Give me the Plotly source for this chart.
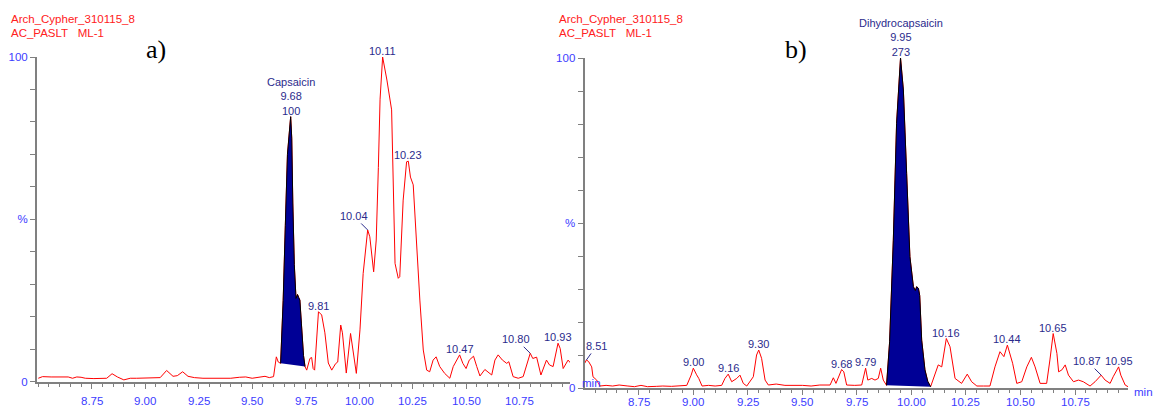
import plotly.graph_objects as go

W, H = 1154, 411

# ---- Panel a) : retention time (min) vs relative intensity (%) ----
time_a = [8.50, 8.52, 8.56, 8.60, 8.64, 8.66, 8.68, 8.70, 8.72, 8.76, 8.80, 8.82,
          8.845, 8.87, 8.90, 8.93, 8.96, 9.00, 9.04, 9.07, 9.10, 9.13, 9.15, 9.175,
          9.20, 9.23, 9.27, 9.32, 9.36, 9.40, 9.44, 9.47, 9.50, 9.53, 9.56, 9.58,
          9.60, 9.613, 9.622, 9.633, 9.645, 9.655, 9.665, 9.68, 9.685, 9.69, 9.697,
          9.705, 9.712, 9.718, 9.723, 9.73, 9.74, 9.747, 9.755, 9.77, 9.778, 9.785,
          9.792, 9.81, 9.825, 9.84, 9.856, 9.872, 9.89, 9.90, 9.914, 9.922, 9.94,
          9.96, 9.97, 9.987, 10.004, 10.019, 10.04, 10.05, 10.068, 10.08, 10.09,
          10.098, 10.11, 10.13, 10.152, 10.16, 10.168, 10.183, 10.19, 10.206,
          10.222, 10.23, 10.24, 10.253, 10.27, 10.284, 10.30, 10.316, 10.33,
          10.346, 10.36, 10.377, 10.40, 10.424, 10.44, 10.47, 10.485, 10.50,
          10.515, 10.535, 10.55, 10.565, 10.588, 10.60, 10.62, 10.635, 10.65,
          10.67, 10.69, 10.70, 10.72, 10.744, 10.767, 10.80, 10.812, 10.83, 10.85,
          10.876, 10.89, 10.907, 10.93, 10.94, 10.954, 10.977, 10.99]
int_a = [1.0, 1.5, 1.4, 1.5, 1.4, 1.0, 1.4, 1.3, 1.0, 0.9, 0.9, 1.0,
         2.4, 1.4, 0.5, 1.0, 1.0, 1.0, 1.2, 1.2, 3.4, 1.6, 1.8, 3.0,
         1.6, 1.2, 1.0, 1.0, 1.2, 1.0, 1.3, 1.4, 1.0, 1.2, 1.6, 1.2,
         1.5, 7.6, 6.0, 5.6, 25.0, 48.0, 70.0, 81.6, 75.0, 55.0, 36.0,
         25.6, 26.8, 25.8, 25.1, 18.0, 8.0, 4.6, 3.5, 7.1, 7.4, 4.0,
         3.5, 21.5, 20.5, 15.0, 5.7, 3.5, 5.5, 6.0, 17.4, 15.0, 2.6,
         14.8, 10.7, 2.5, 15.9, 33.3, 46.7, 44.6, 33.8, 43.6, 66.0,
         87.0, 100.0, 92.9, 83.7, 55.0, 36.4, 31.8, 32.3, 55.9,
         67.7, 67.9, 63.0, 60.6, 40.5, 25.1, 9.7, 3.5, 3.0,
         6.6, 7.6, 4.6, 2.5, 1.0, 4.6, 8.2, 5.6, 4.0,
         6.6, 7.8, 4.6, 1.7, 3.7, 3.0, 2.0, 6.6, 8.2,
         6.6, 5.6, 6.1, 1.5, 1.0, 1.5, 8.7, 7.1, 7.5, 2.0,
         6.6, 5.1, 4.6, 11.8, 10.2, 4.0, 6.6, 5.6]

# ---- Panel b) ----
time_b = [8.502, 8.51, 8.52, 8.534, 8.54, 8.557, 8.572, 8.60, 8.63, 8.66, 8.70,
          8.73, 8.76, 8.79, 8.83, 8.86, 8.90, 8.94, 8.97, 8.99, 9.00, 9.015, 9.025,
          9.04, 9.07, 9.10, 9.13, 9.145, 9.16, 9.176, 9.199, 9.214, 9.229, 9.245,
          9.275, 9.29, 9.30, 9.313, 9.329, 9.344, 9.38, 9.42, 9.46, 9.50, 9.54,
          9.58, 9.627, 9.642, 9.654, 9.68, 9.69, 9.703, 9.74, 9.772, 9.79, 9.80,
          9.818, 9.833, 9.848, 9.859, 9.871, 9.886, 9.90, 9.917, 9.932, 9.95,
          9.963, 9.978, 9.993, 10.009, 10.018, 10.024, 10.032, 10.038, 10.047,
          10.062, 10.075, 10.088, 10.108, 10.123, 10.139, 10.15, 10.16, 10.177,
          10.20, 10.23, 10.256, 10.276, 10.30, 10.33, 10.36, 10.383, 10.406,
          10.424, 10.44, 10.464, 10.483, 10.506, 10.529, 10.55, 10.567, 10.59,
          10.62, 10.635, 10.65, 10.667, 10.675, 10.69, 10.705, 10.72, 10.743,
          10.766, 10.788, 10.819, 10.842, 10.87, 10.888, 10.911, 10.925, 10.95,
          10.96, 10.98, 10.993]
int_b = [7.5, 8.5, 8.0, 6.4, 3.4, 2.4, 0.6, 0.8, 0.6, 0.9, 0.6,
         0.4, 0.8, 0.4, 0.5, 0.6, 0.5, 0.6, 0.8, 3.9, 6.0, 4.0, 2.9,
         0.6, 0.8, 0.6, 0.8, 2.9, 4.2, 1.9, 2.9, 3.9, 1.4, 0.6,
         3.4, 10.0, 11.5, 9.0, 2.4, 0.9, 1.2, 0.8, 0.9, 0.8, 0.6,
         0.9, 0.9, 3.1, 1.4, 5.6, 4.9, 0.9, 0.8, 0.9, 6.0, 2.4,
         2.9, 2.4, 2.9, 6.0, 2.4, 0.8, 14.0, 44.8, 80.2, 100.0,
         90.3, 65.0, 39.8, 30.7, 29.5, 30.7, 30.2, 28.0, 14.5,
         5.5, 2.0, 0.4, 4.4, 7.0, 6.4, 10.5, 15.0, 12.5,
         2.9, 1.4, 4.2, 1.9, 0.6, 0.6, 0.6, 6.4, 11.0,
         9.5, 13.0, 7.5, 1.4, 1.9, 6.4, 9.3, 6.4, 1.4,
         1.4, 8.5, 16.5, 10.5, 4.9, 5.5, 7.0, 3.9, 1.9,
         2.4, 1.9, 0.6, 1.9, 3.9, 2.4, 1.4, 3.4, 6.4,
         3.9, 0.9, 0.4]

# integrated peak windows (start, end) in minutes
cap_window = (9.633, 9.747)
dhc_window = (9.886, 10.088)

# peak annotations: (retention time, text)
labels_a = [(9.68, "Capsaicin<br>9.68<br>100"), (9.81, "9.81"), (10.11, "10.11"),
            (10.23, "10.23"), (10.47, "10.47"), (10.93, "10.93")]
leader_a = [(10.04, "10.04"), (10.80, "10.80")]
labels_b = [(9.00, "9.00"), (9.16, "9.16"), (9.30, "9.30"), (9.68, "9.68"),
            (9.79, "9.79"), (9.95, "Dihydrocapsaicin<br>9.95<br>273"),
            (10.16, "10.16"), (10.44, "10.44"), (10.65, "10.65"), (10.95, "10.95")]
leader_b = [(8.51, "8.51"), (10.87, "10.87")]

x_ticks = [8.75, 9.00, 9.25, 9.50, 9.75, 10.00, 10.25, 10.50, 10.75]
y_ticks = [0, 50, 100]
y_ticktext = ["0", "%", "100"]

header_l1 = "Arch_Cypher_310115_8"
header_l2 = "AC_PASLT\u00a0\u00a0\u00a0ML-1"

RED = "#ff0000"
NAVY = "#000096"
LABEL = "#2b2b8c"
TICK = "#3c3cff"
AXIS = "#808080"
SANS = "Liberation Sans, Arial, sans-serif"


def py(p):
    return 1 - p / H


def px(p):
    return p / W


fig = go.Figure()

panels = [
    (time_a, int_a, cap_window, "x", "y"),
    (time_b, int_b, dhc_window, "x2", "y2"),
]
for t, v, win, xr, yr in panels:
    fig.add_trace(go.Scatter(x=t, y=v, mode="lines", xaxis=xr, yaxis=yr,
                             line=dict(color=RED, width=1), hoverinfo="skip"))
    seg = [(ti, vi) for ti, vi in zip(t, v) if win[0] <= ti <= win[1]]
    fig.add_trace(go.Scatter(x=[s[0] for s in seg], y=[s[1] for s in seg],
                             mode="lines", fill="toself", fillcolor=NAVY,
                             xaxis=xr, yaxis=yr,
                             line=dict(color="black", width=1), hoverinfo="skip"))

annotations = []
label_font = dict(family=SANS, size=11, color=LABEL)


def add_labels(t, v, labels, leaders, xr, yr):
    lut = dict(zip(t, v))
    for tt, txt in labels:
        annotations.append(dict(x=tt, y=lut[tt], xref=xr, yref=yr, text=txt,
                                showarrow=False, yanchor="bottom", yshift=-2,
                                font=label_font))
    for tt, txt in leaders:
        dx = 10 if tt < 9 else -14
        annotations.append(dict(x=tt, y=lut[tt], xref=xr, yref=yr, text=txt,
                                showarrow=True, arrowhead=0, arrowwidth=1,
                                arrowcolor=LABEL, ax=dx, ay=-14,
                                font=label_font))


add_labels(time_a, int_a, labels_a, leader_a, "x", "y")
add_labels(time_b, int_b, labels_b, leader_b, "x2", "y2")

# retention-time tick labels under each x axis
for xr, ypix in [("x", 400.5), ("x2", 402)]:
    for v in x_ticks:
        annotations.append(dict(x=v, y=py(ypix), xref=xr, yref="paper",
                                text=f"{v:.2f}", showarrow=False,
                                xanchor="center", yanchor="middle",
                                font=dict(family=SANS, size=11.5, color=TICK)))

# headers and panel letters
for x0, letter, lx in [(9, "a)", 156), (557, "b)", 796)]:
    annotations.append(dict(x=px(x0), y=py(19), xref="paper", yref="paper",
                            text=header_l1, showarrow=False, xanchor="left",
                            yanchor="middle",
                            font=dict(family=SANS, size=11.5, color="#ff2020")))
    annotations.append(dict(x=px(x0), y=py(33.5), xref="paper", yref="paper",
                            text=header_l2, showarrow=False, xanchor="left",
                            yanchor="middle",
                            font=dict(family=SANS, size=11.5, color="#ff2020")))
    annotations.append(dict(x=px(lx), y=py(50), xref="paper", yref="paper",
                            text=letter, showarrow=False, xanchor="center",
                            yanchor="middle",
                            font=dict(family="Liberation Serif, Times New Roman, serif",
                                      size=26, color="black")))

# time-unit labels
for mx, my in [(591.5, 383), (1143.5, 392)]:
    annotations.append(dict(x=px(mx), y=py(my), xref="paper", yref="paper",
                            text="min", showarrow=False, xanchor="center",
                            yanchor="middle",
                            font=dict(family=SANS, size=11.5, color=TICK)))


def xaxis(domain, rng, anchor):
    return dict(domain=domain, range=rng, anchor=anchor, showgrid=False,
                automargin=False,
                zeroline=False, showline=True, linecolor=AXIS, linewidth=2,
                tickmode="array", tickvals=x_ticks, showticklabels=False,
                ticks="outside", ticklen=5, tickwidth=1, tickcolor=AXIS,
                minor=dict(dtick=0.05, tick0=8.5, ticks="outside", ticklen=3,
                           tickwidth=1, tickcolor=AXIS))


def yaxis(domain, anchor):
    return dict(domain=domain, range=[0, 100], anchor=anchor, showgrid=False,
                automargin=False,
                zeroline=False, showline=True, linecolor=AXIS, linewidth=2,
                tickmode="array", tickvals=y_ticks, ticktext=y_ticktext,
                ticks="outside", ticklen=5, tickwidth=1, tickcolor=AXIS,
                tickfont=dict(family=SANS, size=11.5, color=TICK),
                minor=dict(dtick=10, ticks="outside", ticklen=5, tickwidth=1,
                           tickcolor=AXIS))


fig.update_layout(
    width=W, height=H, margin=dict(l=0, r=0, t=0, b=0, autoexpand=False),
    paper_bgcolor="white", plot_bgcolor="white", showlegend=False,
    xaxis=xaxis([px(37), px(570)], [8.494, 10.986], "y"),
    yaxis=yaxis([py(381.5), py(57)], "x"),
    xaxis2=xaxis([px(584.6), px(1128)], [8.5015, 10.993], "y2"),
    yaxis2=yaxis([py(388), py(58)], "x2"),
    annotations=annotations,
)

fig.write_html("out.html")
